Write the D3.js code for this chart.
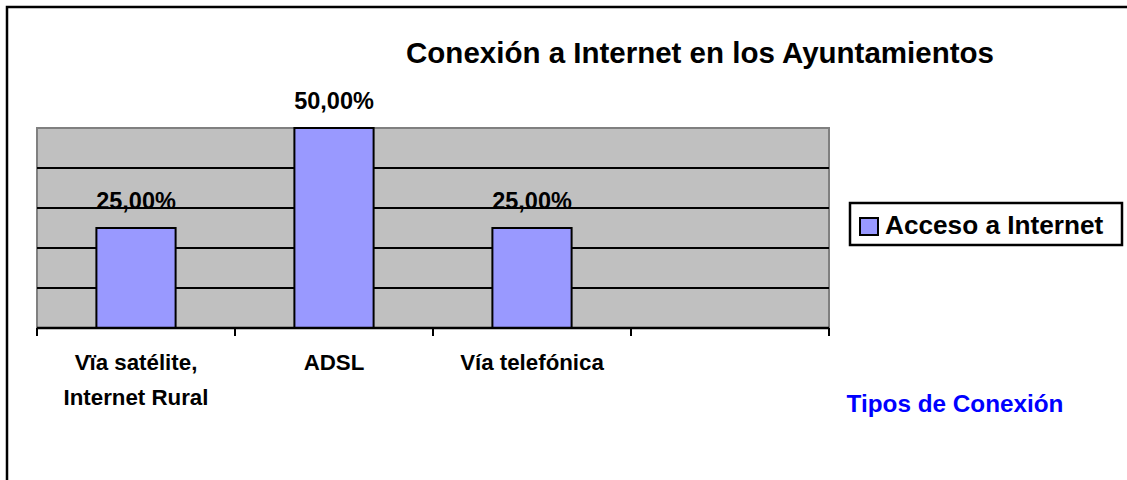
<!DOCTYPE html>
<html>
<head>
<meta charset="utf-8">
<script src="https://cdn.jsdelivr.net/npm/d3@7"></script>
<style>
  html, body { margin: 0; padding: 0; background: #fff; }
  svg { display: block; font-family: "Liberation Sans", Arial, sans-serif; font-weight: bold; }
</style>
</head>
<body>
<svg id="chart" width="1127" height="480"></svg>
<script>
const categories = ["Vïa satélite,\nInternet Rural", "ADSL", "Vía telefónica", ""];
const values = [0.25, 0.50, 0.25, null];
const valueLabels = ["25,00%", "50,00%", "25,00%", ""];
const gridTicks = [0.1, 0.2, 0.3, 0.4];
const seriesName = "Acceso a Internet";
const chartTitle = "Conexión a Internet en los Ayuntamientos";
const axisTitle = "Tipos de Conexión";

const svg = d3.select("#chart");

// outer chart border
svg.append("rect").attr("x", 7).attr("y", 7).attr("width", 1140).attr("height", 490)
  .attr("fill", "none").attr("stroke", "#000").attr("stroke-width", 2.5);

const plot = { left: 37, right: 829, top: 128, bottom: 328 };

const x = d3.scaleBand().domain(categories).range([plot.left, plot.right]).paddingInner(0).paddingOuter(0);
const y = d3.scaleLinear().domain([0, 0.5]).range([plot.bottom, plot.top]);

// plot area
svg.append("rect").attr("x", plot.left).attr("y", plot.top)
  .attr("width", plot.right - plot.left).attr("height", plot.bottom - plot.top)
  .attr("fill", "#C0C0C0").attr("stroke", "#808080").attr("stroke-width", 2);

// gridlines
svg.append("g").selectAll("line").data(gridTicks).join("line")
  .attr("x1", plot.left).attr("x2", plot.right)
  .attr("y1", d => y(d)).attr("y2", d => y(d))
  .attr("stroke", "#000").attr("stroke-width", 2);

// bars
const bw = x.bandwidth();
svg.append("g").selectAll("rect").data(categories.map((c, i) => ({ c, v: values[i] })).filter(d => d.v != null))
  .join("rect")
  .attr("x", d => x(d.c) + bw * 0.3)
  .attr("width", bw * 0.4)
  .attr("y", d => y(d.v))
  .attr("height", d => y(0) - y(d.v))
  .attr("fill", "#9999FF").attr("stroke", "#000").attr("stroke-width", 2);

// x axis
const xAxis = d3.axisBottom(x).tickSize(0).tickFormat("");
const gx = svg.append("g").attr("transform", `translate(0,${plot.bottom})`).call(xAxis);
gx.select(".domain").attr("stroke", "#000").attr("stroke-width", 2.5).attr("d", `M${plot.left},0H${plot.right}`);
// tick marks at band boundaries
const bounds = categories.map(c => x(c)).concat([x(categories[categories.length - 1]) + bw]);
gx.selectAll("line.bt").data(bounds).join("line").attr("class", "bt")
  .attr("x1", d => d).attr("x2", d => d).attr("y1", 0).attr("y2", 8)
  .attr("stroke", "#000").attr("stroke-width", 2);

// category labels
categories.forEach(c => {
  const lines = c.split("\n");
  const t = svg.append("text").attr("text-anchor", "middle").attr("font-size", 22.3).attr("fill", "#000");
  lines.forEach((ln, i) => {
    t.append("tspan").attr("x", x(c) + bw / 2).attr("y", 370 + i * 35).text(ln);
  });
});

// value labels
svg.append("g").selectAll("text").data(categories.map((c, i) => ({ c, v: values[i], l: valueLabels[i] })).filter(d => d.v != null))
  .join("text")
  .attr("x", d => x(d.c) + bw / 2)
  .attr("y", d => y(d.v) - 19)
  .attr("text-anchor", "middle").attr("font-size", 23.5).attr("fill", "#000")
  .text(d => d.l);

// title
svg.append("text").attr("x", 700).attr("y", 63).attr("text-anchor", "middle")
  .attr("font-size", 29.5).attr("fill", "#000").text(chartTitle);

// axis title
svg.append("text").attr("x", 955).attr("y", 412).attr("text-anchor", "middle")
  .attr("font-size", 24.3).attr("fill", "#0000FF").text(axisTitle);

// legend
const lg = svg.append("g");
lg.append("rect").attr("x", 850).attr("y", 203).attr("width", 272).attr("height", 42)
  .attr("fill", "#fff").attr("stroke", "#000").attr("stroke-width", 2.5);
lg.append("rect").attr("x", 860).attr("y", 218).attr("width", 18).attr("height", 17)
  .attr("fill", "#9999FF").attr("stroke", "#000").attr("stroke-width", 2);
lg.append("text").attr("x", 885).attr("y", 234).attr("font-size", 26.2).attr("fill", "#000").text(seriesName);
</script>
</body>
</html>
